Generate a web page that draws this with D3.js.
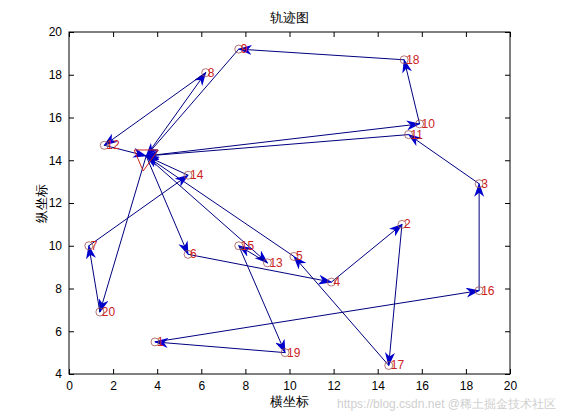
<!DOCTYPE html>
<meta charset="utf-8">
<style>
	body { margin: 0; background: #fff; }
	text { font-family: "Liberation Sans", Arial, sans-serif; }
</style>
<body></body>
<script src="https://d3js.org/d3.v7.min.js"></script>
<script>
	// point labels and coordinates
	var labels = ["1","2","3","4","5","6","7","8","9","10","11","12","13","14","15","16","17","18","19","20"];
	var xs = [3.9,15.1,18.6,11.9,10.2,5.4,0.9,6.2,7.7,15.9,15.4,1.6,9.0,5.4,7.7,18.6,14.5,15.2,9.8,1.4];
	var ys = [5.5,11.0,12.9,8.3,9.5,9.6,10.0,18.1,19.2,15.7,15.2,14.7,9.2,13.3,10.0,7.9,4.4,18.7,5.0,6.9];
	// start point (triangle)
	var start = [3.5, 14.2];
	// path segments, 0 = start point, otherwise point number
	var segFrom = [0,8,12,0,10,18,9,3,11,16,1,19,15,0,13,0,6,4,2,17,5,0,20,7,14];
	var segTo   = [8,12,0,10,18,9,0,11,0,3,16,1,19,13,15,6,4,2,17,5,0,20,7,14,0];
	var xTicks = d3.range(0, 21, 2);
	var yTicks = d3.range(4, 21, 2);

	var margin = {top: 32, right: 51, bottom: 46, left: 69};
	var width = 561 - margin.left - margin.right;
	var height = 420 - margin.top - margin.bottom;

	var svg = d3.select("body").append("svg")
		.attr("width", 561).attr("height", 420);
	var g = svg.append("g")
		.attr("transform", "translate(" + margin.left + "," + margin.top + ")");

	var x = d3.scaleLinear().domain([0, 20]).range([0, width]);
	var y = d3.scaleLinear().domain([4, 20]).range([height, 0]);

	svg.append("defs").append("marker")
		.attr("id", "ah").attr("viewBox", "0 -5 14 10")
		.attr("refX", 13).attr("refY", 0)
		.attr("markerWidth", 14).attr("markerHeight", 10)
		.attr("markerUnits", "userSpaceOnUse").attr("orient", "auto")
		.append("path").attr("d", "M0,-5L14,0L0,5L4,0Z").attr("fill", "#0000cc");

	function px(i) { return i == 0 ? x(start[0]) : x(xs[i - 1]); }
	function py(i) { return i == 0 ? y(start[1]) : y(ys[i - 1]); }

	// axes box
	g.append("rect").attr("width", width).attr("height", height)
		.attr("fill", "white").attr("stroke", "black");

	var ax = g.append("g").attr("transform", "translate(0," + height + ")")
		.call(d3.axisBottom(x).tickValues(xTicks).tickSizeInner(-5).tickSizeOuter(0).tickPadding(7));
	g.append("g").call(d3.axisTop(x).tickValues(xTicks).tickSizeInner(-5).tickSizeOuter(0)).selectAll("text").remove();
	var ay = g.append("g")
		.call(d3.axisLeft(y).tickValues(yTicks).tickSizeInner(-5).tickSizeOuter(0).tickPadding(7));
	g.append("g").attr("transform", "translate(" + width + ",0)")
		.call(d3.axisRight(y).tickValues(yTicks).tickSizeInner(-5).tickSizeOuter(0)).selectAll("text").remove();
	g.selectAll(".domain").remove();
	g.selectAll(".tick text").attr("font-size", "12px").attr("fill", "black");

	// segments
	g.selectAll("line.seg")
		.data(d3.range(segFrom.length))
		.enter().append("line")
		.attr("class", "seg")
		.attr("x1", function(i) { return px(segFrom[i]); })
		.attr("y1", function(i) { return py(segFrom[i]); })
		.attr("x2", function(i) { return px(segTo[i]); })
		.attr("y2", function(i) { return py(segTo[i]); })
		.attr("stroke", "#000080").attr("stroke-width", 1)
		.attr("marker-end", "url(#ah)");

	// points
	g.selectAll("circle")
		.data(labels).enter().append("circle")
		.attr("cx", function(d, i) { return x(xs[i]); })
		.attr("cy", function(d, i) { return y(ys[i]); })
		.attr("r", 4).attr("fill", "none").attr("stroke", "#a05050").attr("stroke-width", 0.8);

	g.selectAll("text.lab")
		.data(labels).enter().append("text")
		.attr("class", "lab")
		.attr("x", function(d, i) { return x(xs[i]) + 2; })
		.attr("y", function(d, i) { return y(ys[i]) + 4; })
		.attr("font-size", "12px").attr("fill", "#cc2222")
		.text(function(d) { return d; });

	// start triangle
	var sx = x(start[0]), sy = y(start[1]);
	g.append("path")
		.attr("d", "M" + (sx - 12) + "," + (sy - 6) + "L" + (sx + 12) + "," + (sy - 6) + "L" + (sx - 3) + "," + (sy + 15) + "Z")
		.attr("fill", "none").attr("stroke", "#cc2222");

	svg.append("text").attr("x", margin.left + width / 2).attr("y", 22)
		.attr("text-anchor", "middle").attr("font-size", "13px").text("轨迹图");
	svg.append("text").attr("x", margin.left + width / 2).attr("y", 406)
		.attr("text-anchor", "middle").attr("font-size", "13px").text("横坐标");
	svg.append("text").attr("transform", "translate(46," + (margin.top + height / 2) + ") rotate(-90)")
		.attr("text-anchor", "middle").attr("font-size", "13px").text("纵坐标");

	svg.append("text").attr("x", 556).attr("y", 408).attr("text-anchor", "end")
		.attr("font-size", "12px").attr("fill", "#cfcfcf").text("https://blog.csdn.net @稀土掘金技术社区");
</script>
